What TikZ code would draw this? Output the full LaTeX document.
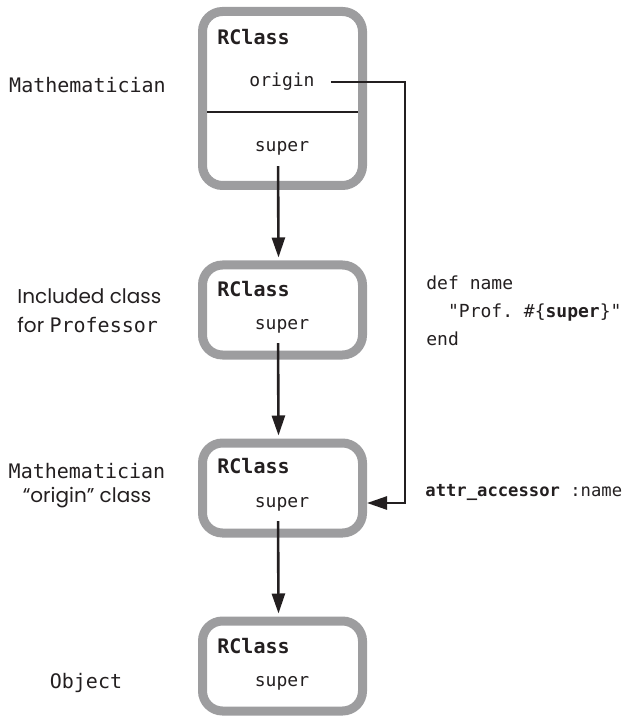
\documentclass[tikz,border=0pt]{standalone}
\usepackage{fontspec}
\setsansfont{Poppins}
\setmonofont{DejaVu Sans Mono}
\usetikzlibrary{arrows.meta}
\definecolor{boxgray}{HTML}{9D9D9F}
\definecolor{ink}{HTML}{231F20}
\tikzset{
  rclass/.style={draw=boxgray, line width=4.5pt, rounded corners=10pt,
    minimum width=80pt, minimum height=45pt},
  link/.style={-{Triangle[length=10pt,width=6.5pt]}, line width=1.3pt, draw=ink},
  code/.style={font=\ttfamily\fontsize{9}{14}\selectfont, text=ink, inner sep=0pt},
  title/.style={font=\ttfamily\bfseries\fontsize{10}{12}\selectfont, text=ink,
    inner sep=0pt, anchor=base west},
  side/.style={font=\sffamily\fontsize{10}{14.5}\selectfont, text=ink, inner sep=0pt},
}

\begin{document}
\begin{tikzpicture}[x=0.5pt,y=-0.5pt]
\useasboundingbox (0,0) rectangle (628,716);
% the boxes
  \node[rclass, minimum height=87pt] (b1) at (282.5,98.5) {};
  \node[rclass] (b2) at (282.5,310) {};
  \node[rclass] (b3) at (282.5,488) {};
  \node[rclass] (b4) at (282.5,666) {};
  \coordinate (div) at (0,112);
  \draw[ink, line width=1.2pt, shorten <=4.5pt, shorten >=4.5pt] (b1.west |- div) -- (b1.east |- div);
% inside the boxes
  \node[title] (t1) at (217,45) {RClass};
  \node[code, anchor=base] (orig) at (282,87) {origin};
  \node[code, anchor=base] (sup1) at (282,152) {super};
  \node[title] (t2) at (217,297) {RClass};
  \node[code, anchor=base] (sup2) at (282,329) {super};
  \node[title] (t3) at (217,473) {RClass};
  \node[code, anchor=base] (sup3) at (282,507) {super};
  \node[title] (t4) at (217,653) {RClass};
  \node[code, anchor=base] (sup4) at (282,686) {super};
% super links
  \draw[link, shorten <=5pt, shorten >=1.5pt] ([xshift=-2pt]sup1.south) -- ([xshift=-2pt]b2.north);
  \draw[link, shorten <=5pt, shorten >=1.5pt] ([xshift=-2pt]sup2.south) -- ([xshift=-2pt]b3.north);
  \draw[link, shorten <=5pt, shorten >=1.5pt] ([xshift=-2pt]sup3.south) -- ([xshift=-2pt]b4.north);
% origin link
  \coordinate (bend) at (405,0);
  \draw[link, shorten <=8pt] (orig.east) -- (orig.east -| bend) |- ([yshift=-7.5pt]b3.east);
% code
  \node[code, anchor=north west, align=left] (def) at (426,275)
    {def name\\\phantom{xx}"Prof. \#\{\textbf{super}\}"\\end};
  \node[code, anchor=base west, font=\ttfamily\fontsize{8.6}{12}\selectfont] (acc) at (425,496)
    {\textbf{attr\_accessor} :name};
% labels
  \node[side, anchor=base] (l1) at (87.5,93) {\texttt{Mathematician}};
  \node[side, anchor=north west, align=left] (l2) at (17,288) {Included class\\for \texttt{Professor}};
  \node[side, anchor=north, align=center] (l3) at (87,463) {\texttt{Mathematician}\\[-2.5pt]“origin” class};
  \node[side, anchor=base] (l4) at (86,688) {\texttt{Object}};
\end{tikzpicture}
\end{document}
